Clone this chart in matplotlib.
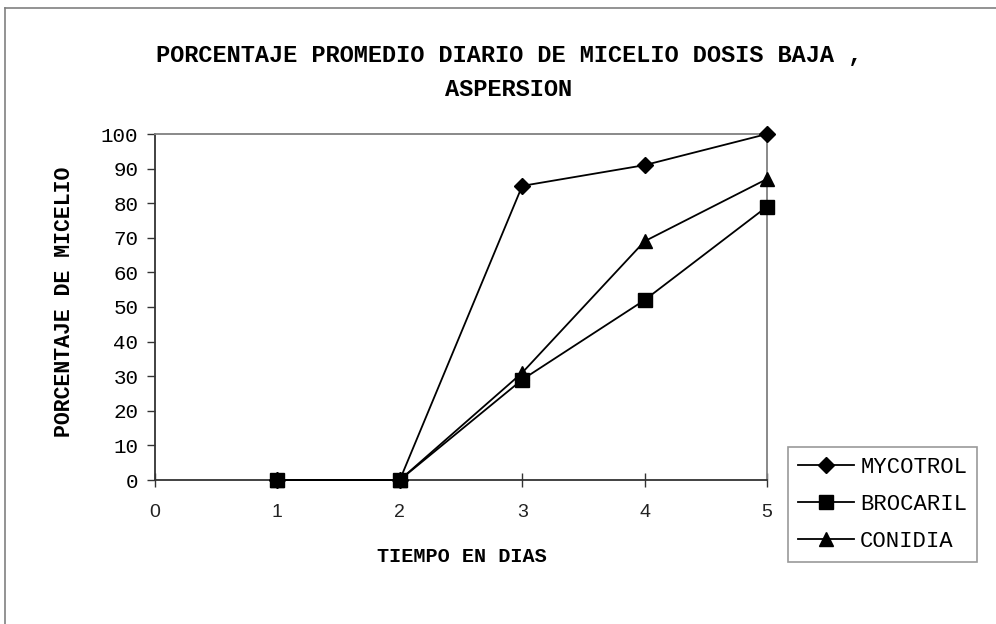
import matplotlib
matplotlib.use("Agg")
import matplotlib.pyplot as plt
from matplotlib.lines import Line2D

# Daily mean mycelium percentage, low dose, spray application
dias = [1, 2, 3, 4, 5]
mycotrol = [0, 0, 85, 91, 100]
brocaril = [0, 0, 29, 52, 79]
conidia = [0, 0, 31, 69, 87]

series_names = ["MYCOTROL", "BROCARIL", "CONIDIA"]
series_markers = ["D", "s", "^"]

W, H = 996, 624
fig = plt.figure(figsize=(W / 100, H / 100), dpi=100)
fig.patch.set_facecolor("white")

# outer chart-area frame (runs off the right and bottom edges)
fig.add_artist(Line2D([5 / W, 5 / W], [1 - 8 / H, 0], color="#808080", lw=1.2,
                      transform=fig.transFigure))
fig.add_artist(Line2D([5 / W, 1], [1 - 8 / H, 1 - 8 / H], color="#808080", lw=1.2,
                      transform=fig.transFigure))

ax = fig.add_axes([155 / W, 1 - 480 / H, (767 - 155) / W, (480 - 134) / H])

mono = "Liberation Mono"
for vals, name, mk, ms in zip([mycotrol, brocaril, conidia], series_names,
                              series_markers, [8, 9.5, 10]):
    ax.plot(dias, vals, color="black", lw=1.3, marker=mk, markersize=ms,
            markerfacecolor="black", markeredgecolor="black", label=name,
            clip_on=False, zorder=3)

ax.set_xlim(0, 5)
ax.set_ylim(0, 100)
ax.set_xticks(range(0, 6))
ax.set_yticks(range(0, 101, 10))

ax.spines["left"].set_color("#333333")
ax.spines["bottom"].set_color("#333333")
ax.spines["top"].set_color("#808080")
ax.spines["right"].set_color("#808080")
for sp in ax.spines.values():
    sp.set_linewidth(1.3)

ax.tick_params(axis="y", direction="out", length=6, width=1, color="#333333",
               pad=6, labelsize=15)
ax.tick_params(axis="x", direction="inout", length=10, width=1, color="#333333",
               pad=12, labelsize=14)
for lab in ax.get_yticklabels():
    lab.set_fontfamily(mono)
for lab in ax.get_xticklabels():
    lab.set_fontfamily("Liberation Sans")
    lab.set_color("#222222")

fig.text(65 / W, 1 - 302 / H, "PORCENTAJE DE MICELIO", fontfamily=mono,
         fontweight="bold", fontsize=15.5, rotation=90, ha="center", va="center")

fig.text(462 / W, 1 - 557 / H, "TIEMPO EN DIAS", fontfamily=mono,
         fontweight="bold", fontsize=14.5, ha="center", va="center")

fig.text(509 / W, 1 - 55 / H, "PORCENTAJE PROMEDIO DIARIO DE MICELIO DOSIS BAJA ,",
         fontfamily=mono, fontweight="bold", fontsize=17, ha="center", va="center")
fig.text(509 / W, 1 - 90 / H, "ASPERSION", fontfamily=mono, fontweight="bold",
         fontsize=17, ha="center", va="center")

leg = fig.legend(loc="upper left", bbox_to_anchor=(788 / W, 1 - 447 / H),
                 bbox_transform=fig.transFigure, frameon=True, fancybox=False,
                 edgecolor="#808080", handlelength=2.5, handletextpad=0.3,
                 borderpad=0.45, labelspacing=0.72, borderaxespad=0,
                 prop={"family": mono, "size": 16})
leg.get_frame().set_linewidth(1.2)

fig.savefig("out.png", dpi=100, facecolor="white")
